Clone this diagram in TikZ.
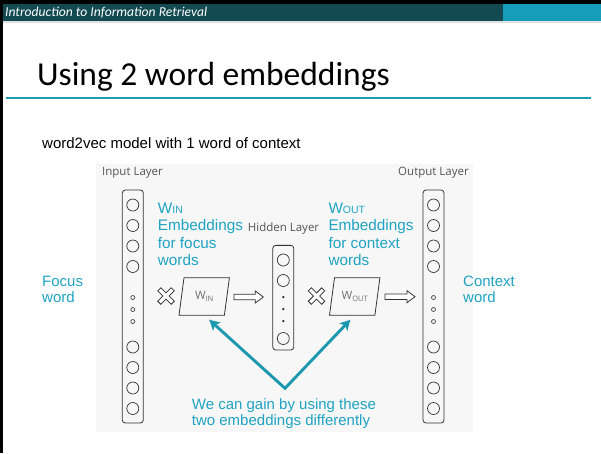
\documentclass[tikz,border=0pt]{standalone}
\usepackage{fontspec}
\setmainfont{Liberation Sans}
\newfontfamily\calibri{Carlito}
\newfontfamily\labelfont{Open Sans}
\usetikzlibrary{arrows.meta,calc}

\definecolor{hdrdark}{HTML}{134A51}
\definecolor{hdrlight}{HTML}{169DBA}
\definecolor{rulecol}{HTML}{1F9BB6}
\definecolor{tealtext}{HTML}{1FA3C3}
\definecolor{tealline}{HTML}{1A98AF}
\definecolor{labelgray}{HTML}{555555}
\definecolor{linegray}{HTML}{333333}
\definecolor{panel}{HTML}{F7F7F7}

\tikzset{
  layerbox/.style={draw=linegray, line width=0.8pt, rounded corners=3pt, minimum width=21pt, inner sep=0pt},
  unit/.style={circle, draw=linegray, line width=0.7pt, minimum size=12pt, inner sep=0pt},
  smallunit/.style={circle, draw=linegray, line width=0.6pt, minimum size=4pt, inner sep=0pt},
  dotunit/.style={circle, fill=linegray, minimum size=2.6pt, inner sep=0pt},
  layertitle/.style={font=\labelfont\fontsize{11.5}{13}\selectfont, text=labelgray, inner sep=0pt},
  tealblock/.style={font=\fontsize{15.3}{17.5}\selectfont, text=tealtext, align=left, inner sep=0pt, anchor=north west},
  matrixnode/.style={minimum width=45pt, minimum height=37pt, inner sep=0pt, font=\labelfont\fontsize{11.5}{13}\selectfont, text=labelgray!85},
  parallel/.style={draw=linegray, line width=0.8pt, line join=miter},
  hollow/.style={draw=linegray, line width=0.8pt, line join=miter, fill=white},
  tealconn/.style={draw=tealline, line width=2.8pt, line join=miter,
    {Stealth[length=10pt,width=11pt,inset=2.5pt]}-{Stealth[length=10pt,width=11pt,inset=2.5pt]}},
}

% outlined multiplication sign
\newcommand\timesmark[1]{%
  \draw[linegray, line width=5pt] ($(#1)+(-7,-7)$) -- ($(#1)+(7,7)$) ($(#1)+(-7,7)$) -- ($(#1)+(7,-7)$);
  \draw[white, line width=3.2pt] ($(#1)+(-6.3,-6.3)$) -- ($(#1)+(6.3,6.3)$) ($(#1)+(-6.3,6.3)$) -- ($(#1)+(6.3,-6.3)$);
}

\begin{document}
\begin{tikzpicture}[x=1pt,y=-1pt]
\useasboundingbox (0,0) rectangle (601,453);
\fill[white] (0,0) rectangle (601,453);

% slide frame and header bar
\fill[black] (0,0) rectangle (601,4);
\fill[black] (0,0) rectangle (3,453);
\fill[hdrdark] (3,4) rectangle (503,21);
\fill[hdrlight] (503,4) rectangle (601,21);
\fill[black!12] (3,21) rectangle (601,23);
\node[anchor=west, font=\calibri\itshape\fontsize{13.6}{15}\selectfont, text=white, inner sep=0pt] (hdr) at (5,12.5) {Introduction to Information Retrieval};

% slide title
\node[anchor=base west, font=\calibri\fontsize{33.5}{40}\selectfont, inner sep=0pt] (title) at (37,85) {Using 2 word embeddings};
\draw[rulecol, line width=2.5pt] (6,98) -- (591,98);

\node[anchor=base west, font=\fontsize{15}{18}\selectfont, inner sep=0pt] (sub) at (42,148) {word2vec model with 1 word of context};

% figure panel
\fill[panel] (96,164) rectangle (473,432);

% layer titles
\node[layertitle] (intitle) at (132.5,172.7) {Input Layer};
\node[layertitle] (hidtitle) at (283.5,229) {Hidden Layer};
\node[layertitle] (outtitle) at (433.5,172.7) {Output Layer};

% input and output layers
\node[layerbox, minimum height=233pt] (inbox) at (132.8,306.5) {};
\node[layerbox, minimum height=233pt] (outbox) at (433.5,306.5) {};
\foreach \b/\x in {in/132.8, out/433.5} {
  \foreach \y [count=\i] in {205,225.5,246,266.5,347,367.5,388,408.5}
    \node[unit] (\b u\i) at (\x,\y) {};
  \foreach \y [count=\i] in {297.5,309.5,321.5}
    \node[smallunit] (\b d\i) at (\x,\y) {};
}

% hidden layer
\node[layerbox, minimum height=104.7pt] (hid) at (283.3,297.7) {};
\foreach \y [count=\i] in {260,280.5,338.5}
  \node[unit] (hu\i) at (283.3,\y) {};
\foreach \y [count=\i] in {297,309,321}
  \node[dotunit] (hd\i) at (283.3,\y) {};

% weight matrices
\node[matrixnode] (win) at (204.2,296.5) {W\raisebox{-1.5pt}{\fontsize{7.5}{8}\selectfont IN}};
\draw[parallel] ($(win.north west)+(2.5,0)$) -- ($(win.north east)+(2.5,0)$) -- ($(win.south east)+(-2.5,0)$) -- ($(win.south west)+(-2.5,0)$) -- cycle;
\node[matrixnode] (wout) at (354.7,296.5) {W\raisebox{-1.5pt}{\fontsize{7.5}{8}\selectfont OUT}};
\draw[parallel] ($(wout.north west)+(2.5,0)$) -- ($(wout.north east)+(2.5,0)$) -- ($(wout.south east)+(-2.5,0)$) -- ($(wout.south west)+(-2.5,0)$) -- cycle;

% multiplication signs
\coordinate (x1) at (166,296);
\coordinate (x2) at (316.5,296);
\timesmark{x1}
\timesmark{x2}

% hollow arrows
\coordinate (a1) at (234,297);
\coordinate (a2) at (385,296.7);
\draw[hollow] (a1) ++(0,-2.8) -- ++(21.3,0) -- ++(0,-3.2) -- ++(8,6) -- ++(-8,6) -- ++(0,-3.2) -- ++(-21.3,0) -- cycle;
\draw[hollow] (a2) ++(0,-2.8) -- ++(22,0) -- ++(0,-3.2) -- ++(8,6) -- ++(-8,6) -- ++(0,-3.2) -- ++(-22,0) -- cycle;

% annotations
\node[tealblock] (winlbl) at (157.7,202.3) {W{\fontsize{10.5}{10}\selectfont IN}\\Embeddings\\for focus\\words};
\node[tealblock] (woutlbl) at (328.3,202.3) {W{\fontsize{10.5}{10}\selectfont OUT}\\Embeddings\\for context\\words};
\node[tealblock, font=\fontsize{15}{16}\selectfont] (focus) at (42,275.8) {Focus\\word};
\node[tealblock, font=\fontsize{15}{16}\selectfont] (context) at (463,275.8) {Context\\word};
\node[tealblock, font=\fontsize{15}{16}\selectfont] (gain) at (191.7,398.8) {We can gain by using these\\two embeddings differently};

% pointers to the two matrices
\coordinate (apex) at (285,388.3);
\draw[black, opacity=0.12, line width=3pt, line join=miter, shift={(1.5,1.5)}] ($(win.south)!7pt!(apex)$) -- (apex) -- ($(wout.south)!7pt!(apex)$);
\draw[tealconn, shorten <=7pt, shorten >=6.5pt] (win.south) -- (apex) -- (wout.south);
\end{tikzpicture}
\end{document}
